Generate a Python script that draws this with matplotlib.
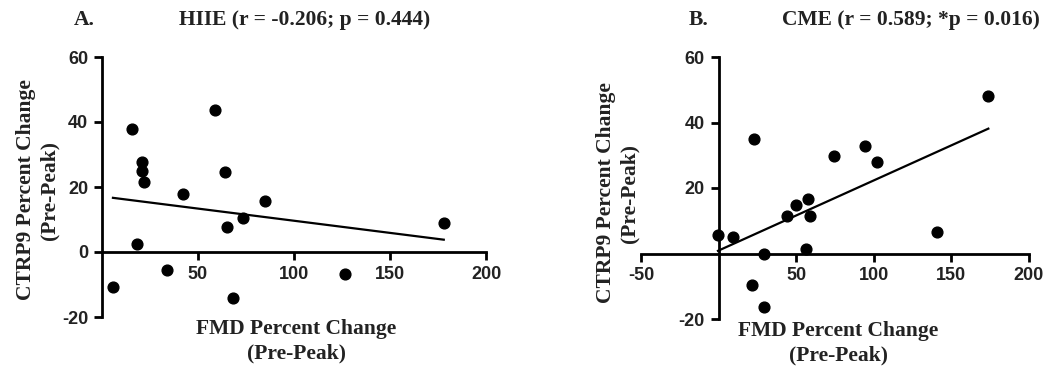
import numpy as np
import matplotlib
matplotlib.use("Agg")
import matplotlib.pyplot as plt

plt.rcParams["axes.unicode_minus"] = False

# Panel A: HIIE
hiie_fmd = [5.7, 15.6, 18, 20.6, 20.6, 22, 34, 42, 59, 64, 65, 68, 73.5, 85, 126.5, 178]
hiie_ctrp9 = [-10.8, 37.8, 2.5, 27.7, 25, 21.5, -5.5, 17.8, 43.8, 24.6, 7.7, -14.2, 10.5, 15.8, -6.8, 9]

# Panel B: CME
cme_fmd = [-0.4, 9.2, 23, 21.5, 29, 29, 44, 50, 57.5, 59, 56.5, 74.5, 94.4, 102, 140.6, 173.8]
cme_ctrp9 = [5.8, 5.1, 34.9, -9.7, 0, -16.3, 11.6, 14.8, 16.5, 11.4, 1.5, 29.8, 32.9, 27.8, 6.5, 48.2]

W, H = 1061, 368
fig = plt.figure(figsize=(W / 100, H / 100), dpi=100)

serif = "Liberation Serif"
sans = "Liberation Sans"


def fx(px):
    return px / W


def fy(py):
    return 1 - py / H


def panel(rect, x, y, xlim, xticks, yticks):
    ax = fig.add_axes(rect)
    ax.scatter(x, y, s=60, color="black", zorder=3)
    k, b = np.polyfit(x, y, 1)
    xs = np.array([min(x), max(x)])
    ax.plot(xs, k * xs + b, color="black", lw=1.6)
    ax.set_xlim(*xlim)
    ax.set_ylim(-20, 60)
    for s in ["top", "right"]:
        ax.spines[s].set_visible(False)
    ax.spines["left"].set_position(("data", 0))
    ax.spines["bottom"].set_position(("data", 0))
    ax.spines["left"].set_linewidth(2)
    ax.spines["bottom"].set_linewidth(2)
    ax.set_xticks(xticks)
    ax.set_yticks(yticks)
    ax.tick_params(direction="out", length=6, width=2, labelsize=13, pad=4)
    for t in ax.get_xticklabels() + ax.get_yticklabels():
        t.set_fontfamily(sans)
        t.set_fontweight("bold")
        t.set_color("#222222")
    return ax


axA = panel([fx(102), fy(317), fx(486 - 102), (317 - 57) / H], hiie_fmd, hiie_ctrp9,
            (0, 200), [50, 100, 150, 200], [-20, 0, 20, 40, 60])
axB = panel([fx(641), fy(319), fx(1029 - 641), (319 - 57) / H], cme_fmd, cme_ctrp9,
            (-50, 200), [-50, 50, 100, 150, 200], [-20, 20, 40, 60])

lab = dict(fontfamily=serif, fontweight="bold", fontsize=15.5, color="#222222")

fig.text(fx(84), fy(20), "A.", ha="center", va="center", **lab)
fig.text(fx(305), fy(20), "HIIE (r = -0.206; p = 0.444)", ha="center", va="center", **lab)
fig.text(fx(699), fy(20), "B.", ha="center", va="center", **lab)
fig.text(fx(911), fy(20), "CME (r = 0.589; *p = 0.016)", ha="center", va="center", **lab)

for cx, cy in [(296, 329), (838, 331)]:
    fig.text(fx(cx), fy(cy), "FMD Percent Change", ha="center", va="center", **lab)
    fig.text(fx(cx), fy(cy + 24), "(Pre-Peak)", ha="center", va="center", **lab)

for cx, cy in [(26, 190), (606, 193)]:
    fig.text(fx(cx), fy(cy), "CTRP9 Percent Change", ha="center", va="center", rotation=90, **lab)
    fig.text(fx(cx + 23), fy(cy), "(Pre-Peak)", ha="center", va="center", rotation=90, **lab)

fig.savefig("out.png", dpi=100)
